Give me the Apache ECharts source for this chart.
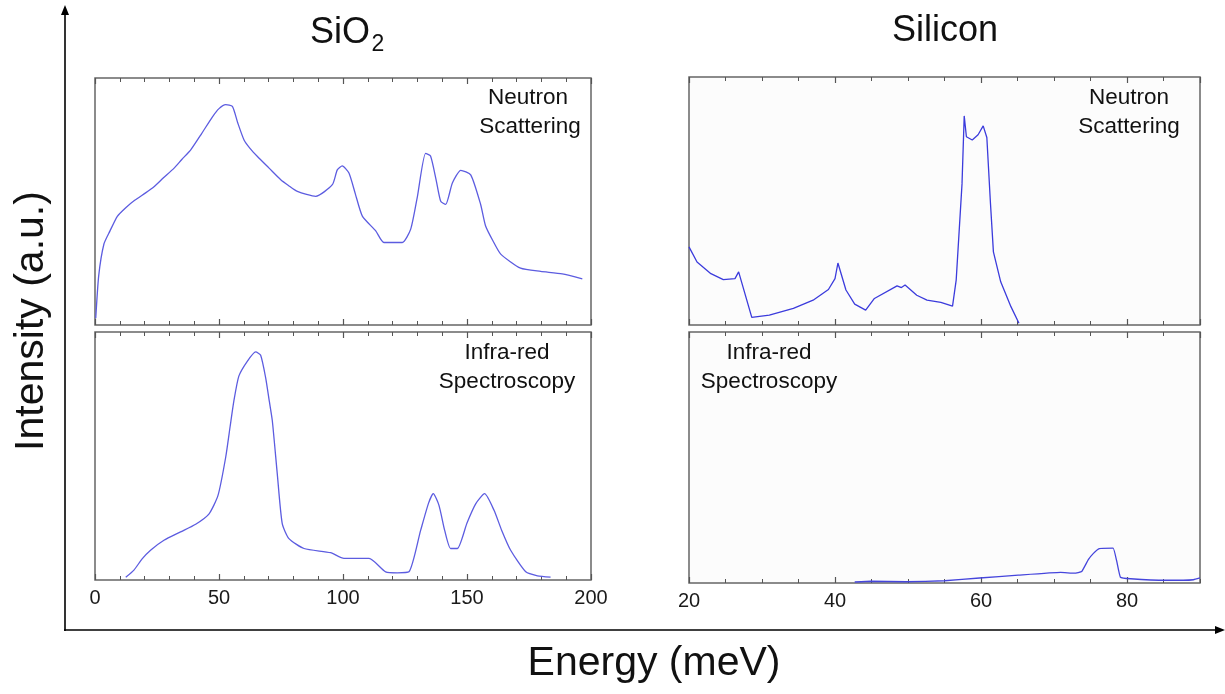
<!DOCTYPE html>
<html><head><meta charset="utf-8">
<script src="https://cdn.jsdelivr.net/npm/echarts@6/dist/echarts.min.js"></script>
<style>html,body{margin:0;padding:0;background:#fff}#c{width:1225px;height:694px}</style>
</head><body><div id="c"></div>
<script>
// ---- data (energy in meV, intensity in arbitrary units 0-100) ----
const sio2Neutron = [
  [0.3,2.7],[1.5,20],[3.6,32.8],[6,38],[9,44],[12.4,47.5],[16,50.5],[20.4,53.5],[23.8,56],[27.5,59.5],
  [31.9,63.5],[35,67],[38.6,70.9],[43,77.5],[47.3,84.2],[50,87.6],[52.7,89.2],[55.4,88.5],[57.5,82],
  [60.1,74.9],[62.5,71.5],[65.5,68.2],[70.2,63.5],[74.9,58.8],[78,56.5],[81.6,54.1],[89,52.1],[95.7,56.8],
  [97.7,62.8],[99.7,64.4],[102.4,61.5],[105,53],[107.8,44.1],[113.2,38.1],[116.5,33.4],[123.9,33.4],
  [127.3,38.8],[130,52],[133.3,69.5],[135.3,68.4],[137.5,59],[139.4,50.1],[141.4,48.8],[144.1,57.5],
  [147.5,62.6],[151.5,60.8],[155.5,48.8],[157.5,40.1],[160.5,34],[163.6,28.7],[171.6,23],[179.7,21.7],
  [188.4,20.7],[196.5,18.7]
];
const sio2Infrared = [
  [12.4,1.1],[15.7,4],[19,8.5],[22.4,12],[27.8,16],[34.5,19.4],[40.6,22.5],[46,26.7],[49.6,34.1],
  [52.7,49.5],[54.5,62],[56,72.2],[58,82.2],[61.4,88.2],[64.8,92],[66.8,90.6],[68.8,81.6],[70.3,72],
  [71.5,64.2],[73.5,42.8],[75.5,22.7],[78.2,16.7],[84.3,12.7],[95,11],[100.4,8.7],[110.5,8.7],
  [117.2,3.3],[121.9,2.9],[126.6,3.3],[131.3,20],[134.5,31],[136.4,34.8],[138.7,30.1],[141,20],
  [143.4,12.7],[146.1,12.7],[150,23],[153.5,30.7],[157.1,34.8],[160.9,28.1],[164,20],[167.6,12],
  [173.7,3.3],[178.4,1.7],[183.7,1.2]
];
const siNeutron = [
  [20,31.5],[21.1,25.4],[23,20.7],[24.7,18.3],[26.3,18.7],[26.8,21.4],[28.6,3.1],[31,4],[34.3,6.7],
  [37,10],[39.1,14.3],[40,18.7],[40.4,25],[41.5,14.1],[42.7,8.4],[44.2,6],[45.4,10.7],[48.5,15.8],
  [49.1,15.1],[49.6,16.1],[51.2,12],[52.6,10],[54.5,9.1],[56.1,7.6],[56.6,18.1],[57.4,56.9],[57.7,84.3],
  [58,75.9],[58.8,74.6],[59.6,76.7],[60.3,80.3],[60.8,75.6],[61.3,48.9],[61.7,29.5],[62.7,17.4],
  [64.1,7.4],[65.2,0.7]
];
const siInfrared = [
  [42.7,0.4],[44.9,0.7],[49.7,0.5],[55,0.9],[59.8,2],[65.1,3.1],[70.9,4.2],[72.8,3.9],[73.8,4.6],
  [74.7,9.3],[75.4,11.8],[76.2,13.7],[78.1,13.9],[78.6,8.6],[79.1,2.3],[80.5,1.7],[85.3,1.1],
  [87.7,1.1],[89.1,1.3],[90,2]
];
const sio2TickLabels = [0, 50, 100, 150, 200];
const siTickLabels = [20, 40, 60, 80];
const sio2MinorStep = 10;
const siMinorStep = 5;
const siMax = 90;
const columnTitles = ['SiO', 'Silicon'];
const panelLabels = [['Neutron', 'Scattering'], ['Infra-red', 'Spectroscopy']];
const axisTitles = ['Intensity (a.u.)', 'Energy (meV)'];

// ---- layout ----
const FONT = '"Liberation Sans", Arial, sans-serif';
const grids = [
  {left: 95, top: 78, width: 496, height: 247, bg: '#ffffff'},
  {left: 95, top: 332, width: 496, height: 248, bg: '#ffffff'},
  {left: 689, top: 77, width: 511, height: 248, bg: '#fcfcfc'},
  {left: 689, top: 332, width: 511, height: 251, bg: '#fcfcfc'}
];
const tickColor = '#555';

function makeAxes(gi, min, max, major, minor) {
  const base = {gridIndex: gi, type: 'value', min: min, max: max,
    axisLine: {show: false}, splitLine: {show: false}};
  return [
    Object.assign({}, base, {position: 'bottom', interval: major,
      axisTick: {show: true, inside: true, length: 6, lineStyle: {color: tickColor, width: 1.2}},
      axisLabel: {show: gi === 1 || gi === 3, margin: 8, fontSize: 20, color: '#1a1a1a', fontFamily: FONT,
        showMinLabel: true, showMaxLabel: gi === 1,
        formatter: v => String(v)}}),
    Object.assign({}, base, {position: 'bottom', interval: minor,
      axisTick: {show: true, inside: true, length: 4, lineStyle: {color: tickColor, width: 1}},
      axisLabel: {show: false}}),
    Object.assign({}, base, {position: 'top', interval: major,
      axisTick: {show: true, inside: true, length: 6, lineStyle: {color: tickColor, width: 1.2}},
      axisLabel: {show: false}}),
    Object.assign({}, base, {position: 'top', interval: minor,
      axisTick: {show: true, inside: true, length: 4, lineStyle: {color: tickColor, width: 1}},
      axisLabel: {show: false}})
  ];
}

const sio2Min = sio2TickLabels[0], sio2Max = sio2TickLabels[sio2TickLabels.length - 1];
const sio2Major = sio2TickLabels[1] - sio2TickLabels[0];
const siMin = siTickLabels[0], siMajor = siTickLabels[1] - siTickLabels[0];

const xAxes = [].concat(
  makeAxes(0, sio2Min, sio2Max, sio2Major, sio2MinorStep),
  makeAxes(1, sio2Min, sio2Max, sio2Major, sio2MinorStep),
  makeAxes(2, siMin, siMax, siMajor, siMinorStep),
  makeAxes(3, siMin, siMax, siMajor, siMinorStep)
);
const yAxes = [0, 1, 2, 3].map(gi => ({gridIndex: gi, type: 'value', min: 0, max: 100,
  axisLine: {show: false}, axisTick: {show: false}, axisLabel: {show: false}, splitLine: {show: false}}));

const seriesData = [sio2Neutron, sio2Infrared, siNeutron, siInfrared];
const lineColors = ['#5c5ce0', '#5c5ce0', '#3b3bdc', '#4545dc'];
const smoothness = [0.2, 0.2, 0, 0.1];
const series = seriesData.map((d, i) => ({
  type: 'line', xAxisIndex: i * 4, yAxisIndex: i, data: d, showSymbol: false, symbol: 'none',
  smooth: smoothness[i],
  lineStyle: {color: lineColors[i], width: 1.3}, silent: true, animation: false
}));

function txt(text, x, y, size, align, extra) {
  return Object.assign({type: 'text', x: x, y: y, silent: true,
    style: {text: text, fontSize: size, fontFamily: FONT, fill: '#111', align: align || 'center',
      verticalAlign: 'middle'}}, extra || {});
}

const graphic = [
  {type: 'line', shape: {x1: 65, y1: 631, x2: 65, y2: 12}, style: {stroke: '#000', lineWidth: 1.6}},
  {type: 'polygon', shape: {points: [[65, 5], [61, 15], [69, 15]]}, style: {fill: '#000'}},
  {type: 'line', shape: {x1: 64, y1: 630, x2: 1216, y2: 630}, style: {stroke: '#000', lineWidth: 1.6}},
  {type: 'polygon', shape: {points: [[1225, 630], [1215, 626], [1215, 634]]}, style: {fill: '#000'}},
  txt(columnTitles[0], 340, 33, 36),
  txt('2', 378, 45, 23),
  txt(columnTitles[1], 945, 31, 36),
  txt(axisTitles[0], 32, 321, 41, 'center', {rotation: Math.PI / 2}),
  txt(axisTitles[1], 654, 664, 41),
  txt(panelLabels[0][0], 528, 98, 22.5),
  txt(panelLabels[0][1], 530, 127, 22.5),
  txt(panelLabels[1][0], 507, 353, 22.5),
  txt(panelLabels[1][1], 507, 382, 22.5),
  txt(panelLabels[0][0], 1129, 98, 22.5),
  txt(panelLabels[0][1], 1129, 127, 22.5),
  txt(panelLabels[1][0], 769, 353, 22.5),
  txt(panelLabels[1][1], 769, 382, 22.5)
];

const chart = echarts.init(document.getElementById('c'), null, {renderer: 'canvas'});
chart.setOption({
  backgroundColor: '#ffffff',
  animation: false,
  grid: grids.map(g => ({left: g.left, top: g.top, width: g.width, height: g.height, show: true,
    backgroundColor: g.bg, borderColor: '#666', borderWidth: 1.5, containLabel: false})),
  xAxis: xAxes,
  yAxis: yAxes,
  series: series,
  graphic: graphic
});
</script>
</body></html>
